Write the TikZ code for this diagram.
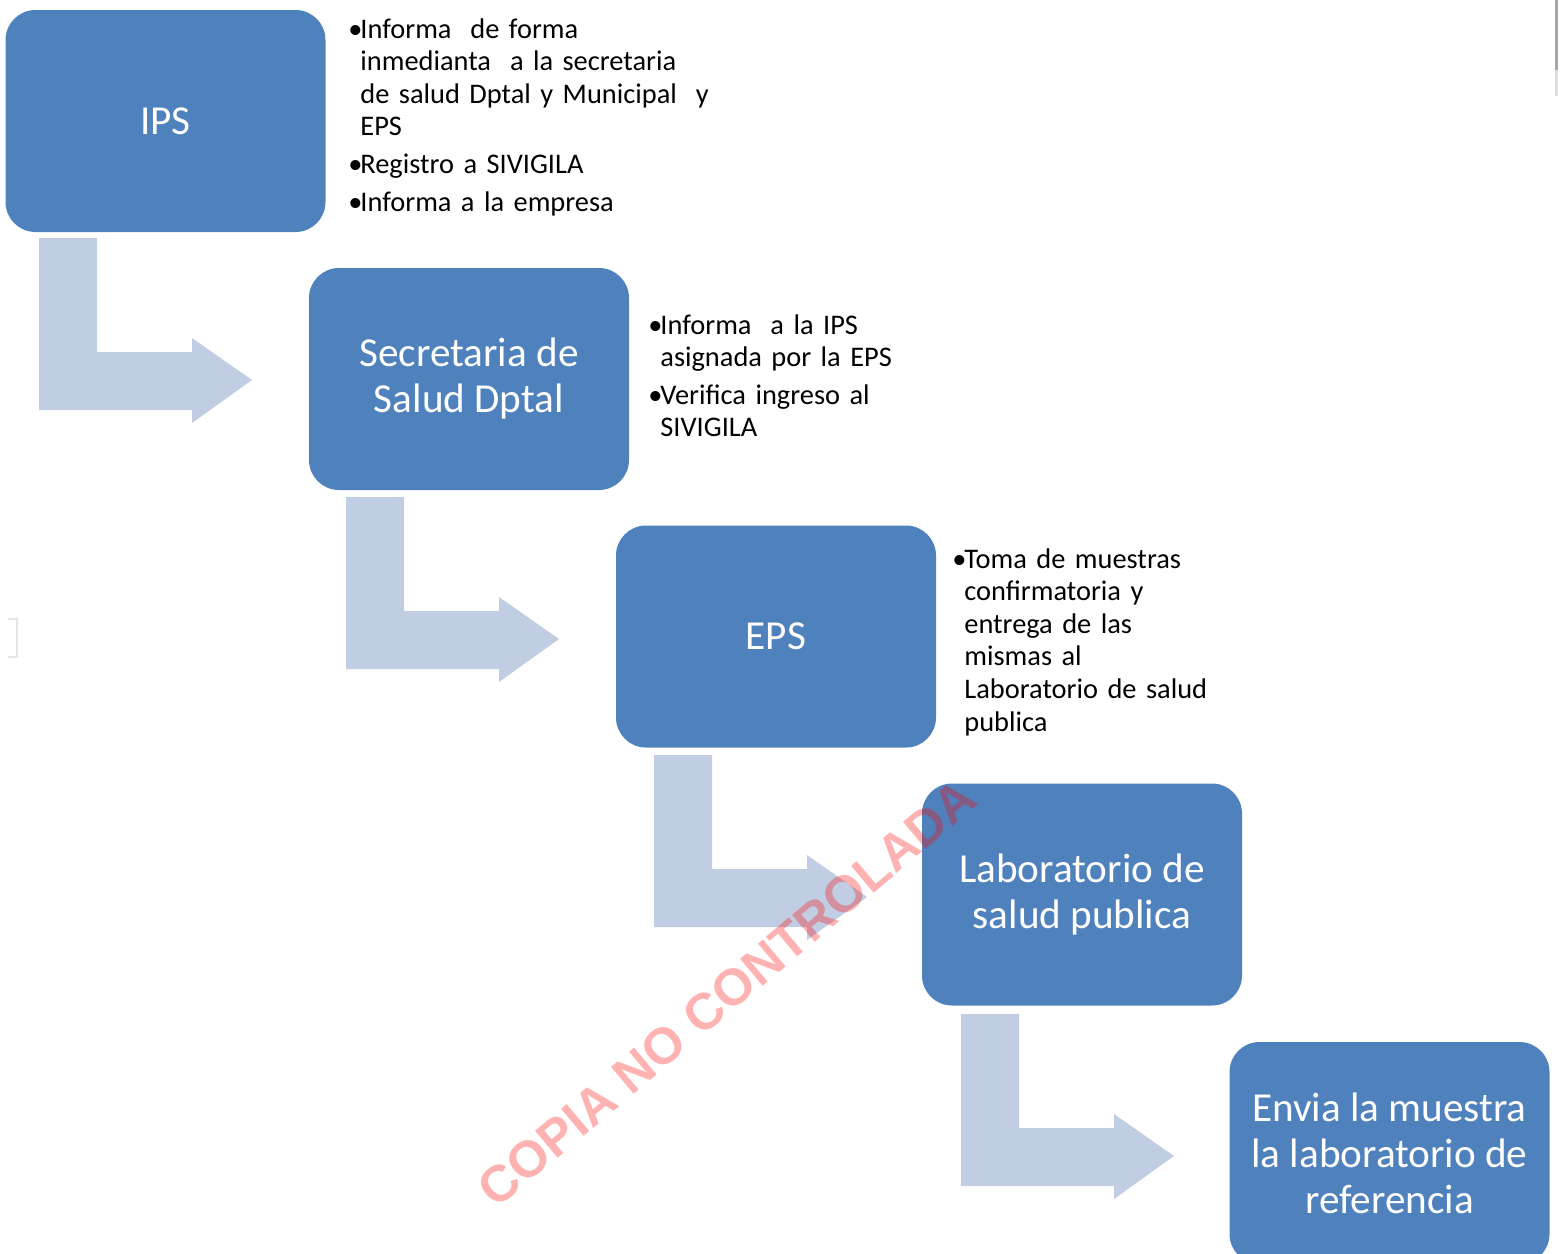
\documentclass[tikz,border=0pt]{standalone}
\usepackage{fontspec}
\setmainfont{Carlito}
\newfontfamily\wmfont{Liberation Sans}
\definecolor{boxblue}{RGB}{79,129,189}
\definecolor{arrowgray}{RGB}{193,205,226}
\newcommand{\bitem}{\par\noindent\hangindent=6pt\hangafter=1\makebox[6pt][l]{\textbullet}}
\begin{document}
\begin{tikzpicture}[x=0.5pt,y=-0.5pt,
  stepbox/.style={fill=boxblue, rounded corners=15pt, minimum width=160pt, minimum height=111pt,
    inner sep=0pt, align=center, text=white, font=\fontsize{20.6}{23}\selectfont},
  notes/.style={anchor=north west, inner sep=0pt, text width=220pt, align=left,
    font=\fontsize{14.2}{16.3}\selectfont},
  bentarrow/.pic={\fill[arrowgray] (0,0) -- (58,0) -- (58,114) -- (153,114) -- (153,100)
    -- (213,142) -- (153,185) -- (153,172) -- (0,172) -- cycle;},
  watermark/.style={rotate=40, text=red, text opacity=0.3, font=\wmfont\bfseries\fontsize{25.6}{29}\selectfont}
]
\useasboundingbox (0,0) rectangle (1562,1253);
\clip (0,0) rectangle (1562,1253);

% bent arrows
\pic at (39,238) {bentarrow};
\pic at (346,497) {bentarrow};
\pic at (654,755) {bentarrow};
\pic at (961,1014) {bentarrow};

% boxes
\node[stepbox] (ips) at (165.5,121) {IPS};
\node[stepbox] (sec) at (469,379) {Secretaria de\\Salud Dptal};
\node[stepbox] (eps) at (776,636.5) {EPS};
\node[stepbox] (lab) at (1082,894.5) {Laboratorio de\\salud publica};
\node[stepbox] (env) at (1389.5,1153) {Envia la muestra\\la laboratorio de\\referencia};

% notes
\node[notes] (n1) at (348,0) {\setlength{\parskip}{2.5pt}%
\bitem Informa\ \ de forma\newline inmedianta\ \ a la secretaria\newline de salud Dptal y Municipal\ \ y\newline EPS
\bitem Registro a SIVIGILA
\bitem Informa a la empresa\par};
\node[notes] (n2) at (648,296) {\setlength{\parskip}{2.5pt}%
\bitem Informa\ \ a la IPS\newline asignada por la EPS
\bitem Verifica ingreso al\newline SIVIGILA\par};
\node[notes] (n3) at (952,530) {\setlength{\parskip}{2.5pt}%
\bitem Toma de muestras\newline confirmatoria y\newline entrega de las\newline mismas al\newline Laboratorio de salud\newline publica\par};

% screen artefacts
\draw[gray!70, line width=1.5pt] (1556,0) -- (1556,70);
\draw[gray!25, line width=1.5pt] (1556,70) -- (1556,96);
\draw[gray!20, line width=1pt] (8,619) -- (17,619) -- (17,657) -- (8,657);

% watermark
\node[watermark] (wm) at (727,993) {COPIA NO CONTROLADA};
\end{tikzpicture}
\end{document}
